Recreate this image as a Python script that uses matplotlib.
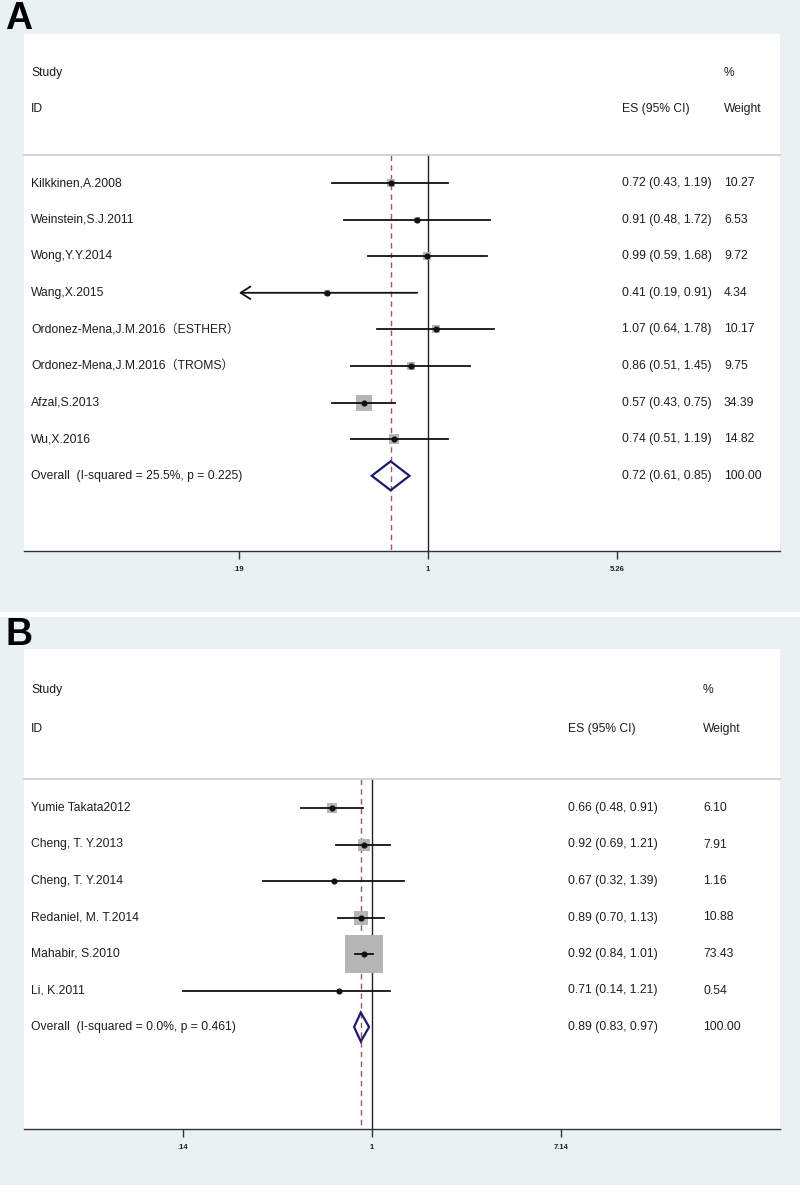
import numpy as np
import matplotlib.pyplot as plt
from matplotlib.patches import Rectangle, Polygon
from matplotlib.transforms import blended_transform_factory

plt.rcParams['font.family'] = ['Liberation Sans Narrow', 'Liberation Sans', 'Noto Sans CJK SC', 'DejaVu Sans']

# ---- Panel A data ----
a_studies = ['Kilkkinen,A.2008', 'Weinstein,S.J.2011', 'Wong,Y.Y.2014', 'Wang,X.2015',
             'Ordonez-Mena,J.M.2016（ESTHER）', 'Ordonez-Mena,J.M.2016（TROMS）',
             'Afzal,S.2013', 'Wu,X.2016']
a_es = [0.72, 0.91, 0.99, 0.41, 1.07, 0.86, 0.57, 0.74]
a_lo = [0.43, 0.48, 0.59, 0.19, 0.64, 0.51, 0.43, 0.51]
a_hi = [1.19, 1.72, 1.68, 0.91, 1.78, 1.45, 0.75, 1.19]
a_wt = [10.27, 6.53, 9.72, 4.34, 10.17, 9.75, 34.39, 14.82]
a_arrow = [False, False, False, True, False, False, False, False]
a_overall = [0.72, 0.61, 0.85]
a_overall_label = 'Overall  (I-squared = 25.5%, p = 0.225)'
a_ticks = [0.19, 1, 5.26]
a_ticklabels = ['.19', '1', '5.26']

# ---- Panel B data ----
b_studies = ['Yumie Takata2012', 'Cheng, T. Y.2013', 'Cheng, T. Y.2014',
             'Redaniel, M. T.2014', 'Mahabir, S.2010', 'Li, K.2011']
b_es = [0.66, 0.92, 0.67, 0.89, 0.92, 0.71]
b_lo = [0.48, 0.69, 0.32, 0.70, 0.84, 0.14]
b_hi = [0.91, 1.21, 1.39, 1.13, 1.01, 1.21]
b_wt = [6.10, 7.91, 1.16, 10.88, 73.43, 0.54]
b_arrow = [False] * 6
b_overall = [0.89, 0.83, 0.97]
b_overall_label = 'Overall  (I-squared = 0.0%, p = 0.461)'
b_ticks = [0.14, 1, 7.14]
b_ticklabels = ['.14', '1', '7.14']

BG = '#e9f1f3'
TXT = '#1e1e1e'
FS = 8.7
W, H = 800, 1199


def draw_panel(top, bottom, one_px, px_per_log, row0, step, head_line, study_y, id_y,
               es_x, wt_x, box_k, studies, es, lo, hi, wt, arrow, overall, overall_label,
               ticks, ticklabels, letter, letter_y):
    left, right = 24, 780
    ax = fig.add_axes([left / W, 1 - bottom / H, (right - left) / W, (bottom - top) / H])
    ax.set_facecolor('white')
    ax.set_xscale('log')
    ax.set_xlim(np.exp((left - one_px) / px_per_log), np.exp((right - one_px) / px_per_log))
    ax.set_ylim((bottom - row0) / step, (top - row0) / step)
    for s in ['top', 'left', 'right']:
        ax.spines[s].set_visible(False)
    ax.spines['bottom'].set_color('#333333')
    ax.spines['bottom'].set_linewidth(1.0)
    ax.set_yticks([])
    ax.set_xticks(ticks)
    ax.set_xticklabels(ticklabels, fontsize=5.5, color=TXT, fontweight='bold')
    ax.xaxis.set_minor_locator(plt.NullLocator())
    ax.tick_params(axis='x', length=6, width=1, color='#333333', pad=5)

    tr = blended_transform_factory(ax.transAxes, ax.transData)
    hl = (head_line - row0) / step
    n = len(studies)
    ax.plot([0, 1], [hl, hl], transform=tr, color='#cccccc', lw=1.2, clip_on=False)

    # reference lines
    ymax = ax.get_ylim()[0]
    ax.plot([1, 1], [hl, ymax], color='#222222', lw=1.0, zorder=1)
    ax.plot([overall[0], overall[0]], [hl, ymax], color='#a35563', lw=1.0,
            dashes=(4, 3), zorder=1)

    fx = lambda px: (px - left) / (right - left)
    sy = (study_y - row0) / step
    iy = (id_y - row0) / step
    ax.text(fx(31), sy, 'Study', transform=tr, fontsize=FS, color=TXT, va='center')
    ax.text(fx(31), iy, 'ID', transform=tr, fontsize=FS, color=TXT, va='center')
    ax.text(fx(wt_x), sy, '%', transform=tr, fontsize=FS, color=TXT, va='center')
    ax.text(fx(es_x), iy, 'ES (95% CI)', transform=tr, fontsize=FS, color=TXT, va='center')
    ax.text(fx(wt_x), iy, 'Weight', transform=tr, fontsize=FS, color=TXT, va='center')

    for i in range(n):
        y = i
        if arrow[i]:
            ax.annotate('', xy=(lo[i], y), xytext=(hi[i], y),
                        arrowprops=dict(arrowstyle='->,head_length=0.7,head_width=0.45',
                                        lw=1.3, color='#111111', shrinkA=0, shrinkB=0))
        else:
            ax.plot([lo[i], hi[i]], [y, y], color='#111111', lw=1.3, zorder=3)
        ax.plot(es[i], y, marker='s', markersize=box_k * np.sqrt(wt[i]) * 0.72,
                color='#b5b5b5', markeredgewidth=0, zorder=2)
        ax.plot(es[i], y, marker='o', markersize=3.4, color='#111111', zorder=4)
        ax.text(fx(31), y, studies[i], transform=tr, fontsize=FS, color=TXT, va='center')
        ax.text(fx(es_x), y, '%.2f (%.2f, %.2f)' % (es[i], lo[i], hi[i]), transform=tr,
                fontsize=FS, color=TXT, va='center')
        ax.text(fx(wt_x), y, '%.2f' % wt[i], transform=tr, fontsize=FS, color=TXT, va='center')

    y = n
    dh = 14.5 / step
    ax.add_patch(Polygon([(overall[1], y), (overall[0], y - dh), (overall[2], y),
                          (overall[0], y + dh)], closed=True, fill=False,
                         edgecolor='#1b1b6b', lw=1.6, zorder=5))
    ax.text(fx(31), y, overall_label, transform=tr, fontsize=FS, color=TXT, va='center')
    ax.text(fx(es_x), y, '%.2f (%.2f, %.2f)' % tuple(overall), transform=tr,
            fontsize=FS, color=TXT, va='center')
    ax.text(fx(wt_x), y, '100.00', transform=tr, fontsize=FS, color=TXT, va='center')

    fig.text(5 / W, 1 - letter_y / H, letter, fontsize=27, fontweight='bold',
             color='black', va='top', ha='left')
    return ax


fig = plt.figure(figsize=(W / 100, H / 100), dpi=100)
fig.patch.set_facecolor(BG)
fig.patches.append(Rectangle((0, 1 - 617 / H), 1, 5 / H, transform=fig.transFigure,
                             facecolor='white', edgecolor='none'))
fig.patches.append(Rectangle((0, 0), 1, 14 / H, transform=fig.transFigure,
                             facecolor='white', edgecolor='none'))

draw_panel(34, 551, 428, 113.8, 183, 36.6, 155, 73, 109, 622, 724, 2.73,
           a_studies, a_es, a_lo, a_hi, a_wt, a_arrow, a_overall, a_overall_label,
           a_ticks, a_ticklabels, 'A', 1)
draw_panel(649, 1129, 372, 96.1, 808, 36.5, 779, 690, 729, 568, 703, 4.43,
           b_studies, b_es, b_lo, b_hi, b_wt, b_arrow, b_overall, b_overall_label,
           b_ticks, b_ticklabels, 'B', 617)

fig.savefig('out.png', dpi=100, facecolor=fig.get_facecolor())
